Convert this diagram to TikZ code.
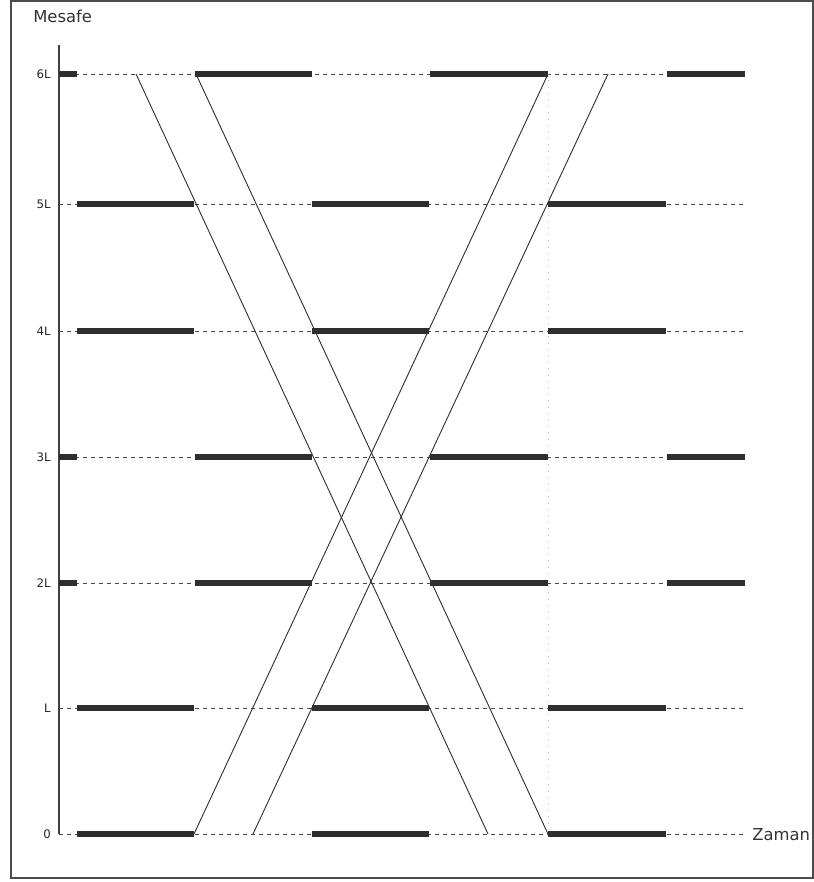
\documentclass[tikz,border=0pt]{standalone}
\usepackage{fontspec}
\setmainfont{DejaVu Sans}
\begin{document}
\begin{tikzpicture}[x=0.75pt,y=-0.75pt,
  frame/.style={line width=0.8pt, black!70},
  axisline/.style={line width=0.8pt, black!75},
  guide/.style={line width=0.55pt, black!70, dash pattern=on 3pt off 3pt},
  faint/.style={line width=0.5pt, black!25, dash pattern=on 0.8pt off 4pt},
  bar/.style={line width=4.5pt, black!82},
  track/.style={line width=0.7pt, black!80},
  ticklab/.style={font=\fontsize{8.8}{10}\selectfont, text=black!85, anchor=east, inner sep=0pt},
  axlab/.style={font=\fontsize{12.3}{14}\selectfont, text=black!80, inner sep=0pt}
]
\useasboundingbox (0,0) rectangle (814,882);
\draw[frame] (11,1) rectangle (813,878);

% axis
\coordinate (axtop) at (59,45);
\coordinate (axbot) at (59,834);
\draw[axisline] (axtop) -- (axbot);
\node[axlab, anchor=west] (mesafe) at (33,16) {Mesafe};

% levels: name / y / label
\foreach \n/\y/\lab in {y0/834/0, y1/708/L, y2/583/2L, y3/457/3L, y4/331/4L, y5/204/5L, y6/74/6L}{
  \coordinate (\n s) at (59,\y);
  \coordinate (\n e) at (745,\y);
  \draw[guide] (\n s) -- (\n e);
  \node[ticklab] (lab\n) at (51,\y) {\lab};
}
\node[axlab, anchor=west] (zaman) at (752,835) {Zaman};

% faint dotted vertical
\coordinate (fv1) at (548,74);
\coordinate (fv2) at (548,834);
\draw[faint] (fv1) -- (fv2);

% bars: rows 6L,3L,2L -> stub + columns 2,4,6
\foreach \y in {74,457,583}{
  \draw[bar] (59,\y) -- (77,\y);
  \draw[bar] (195,\y) -- (312,\y);
  \draw[bar] (430,\y) -- (548,\y);
  \draw[bar] (667,\y) -- (745,\y);
}
% rows 5L,4L,L,0 -> columns 1,3,5
\foreach \y in {204,331,708,834}{
  \draw[bar] (77,\y) -- (194,\y);
  \draw[bar] (312,\y) -- (429,\y);
  \draw[bar] (548,\y) -- (666,\y);
}

% tracks
\coordinate (A1) at (136,74);  \coordinate (A2) at (488,834);
\coordinate (B1) at (196,74);  \coordinate (B2) at (548,834);
\coordinate (C1) at (194,834); \coordinate (C2) at (548,74);
\coordinate (D1) at (253,834); \coordinate (D2) at (608,74);
\draw[track] (A1) -- (A2);
\draw[track] (B1) -- (B2);
\draw[track] (C1) -- (C2);
\draw[track] (D1) -- (D2);
\end{tikzpicture}
\end{document}
